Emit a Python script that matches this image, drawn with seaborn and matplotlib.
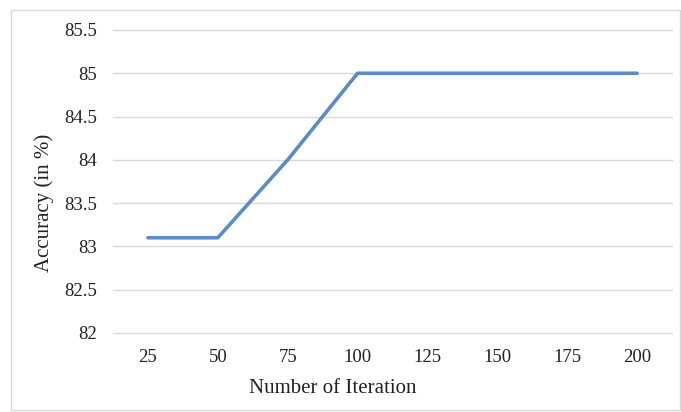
import matplotlib
matplotlib.use("Agg")
import matplotlib.pyplot as plt
import seaborn as sns
import pandas as pd
from matplotlib.patches import Rectangle

iterations = ["25", "50", "75", "100", "125", "150", "175", "200"]
accuracy = [83.1, 83.1, 84.0, 85.0, 85.0, 85.0, 85.0, 85.0]
yticks = [82, 82.5, 83, 83.5, 84, 84.5, 85, 85.5]
ytick_labels = ["82", "82.5", "83", "83.5", "84", "84.5", "85", "85.5"]

sns.set_style("white")
plt.rcParams["font.family"] = ["Liberation Serif", "DejaVu Serif"]

df = pd.DataFrame({"Iteration": iterations, "Accuracy": accuracy})

fig = plt.figure(figsize=(6.81, 4.12), dpi=100)
ax = fig.add_axes([113 / 681, 1 - 333 / 412, 559 / 681, 303 / 412])

fig.patches.append(Rectangle((0.016, 0.004), 0.982, 0.972, transform=fig.transFigure,
                             fill=False, edgecolor="#d9d9d9", linewidth=1.0))

for y in yticks:
    ax.axhline(y, color="#d9d9d9", linewidth=1.0, zorder=0, clip_on=False)

sns.lineplot(data=df, x="Iteration", y="Accuracy", sort=False, color="#5b8cc5",
             linewidth=2.6, ax=ax, zorder=3)

ax.set_xlim(-0.5, len(iterations) - 0.5)
ax.set_ylim(82, 85.5)
ax.set_yticks(yticks)
ax.set_yticklabels(ytick_labels)
for s in ax.spines.values():
    s.set_visible(False)
ax.tick_params(axis="both", length=0, labelsize=13.5, colors="#222222")
ax.tick_params(axis="y", pad=11.5)
ax.tick_params(axis="x", pad=11.5)
ax.set_xlabel("Number of Iteration", fontsize=15, color="#222222", labelpad=9.5)
ax.set_ylabel("Accuracy (in %)", fontsize=15, color="#222222", labelpad=7)
ax.xaxis.label.set_x(0.394)
ax.yaxis.label.set_y(0.429)

fig.savefig("out.png", dpi=100)
